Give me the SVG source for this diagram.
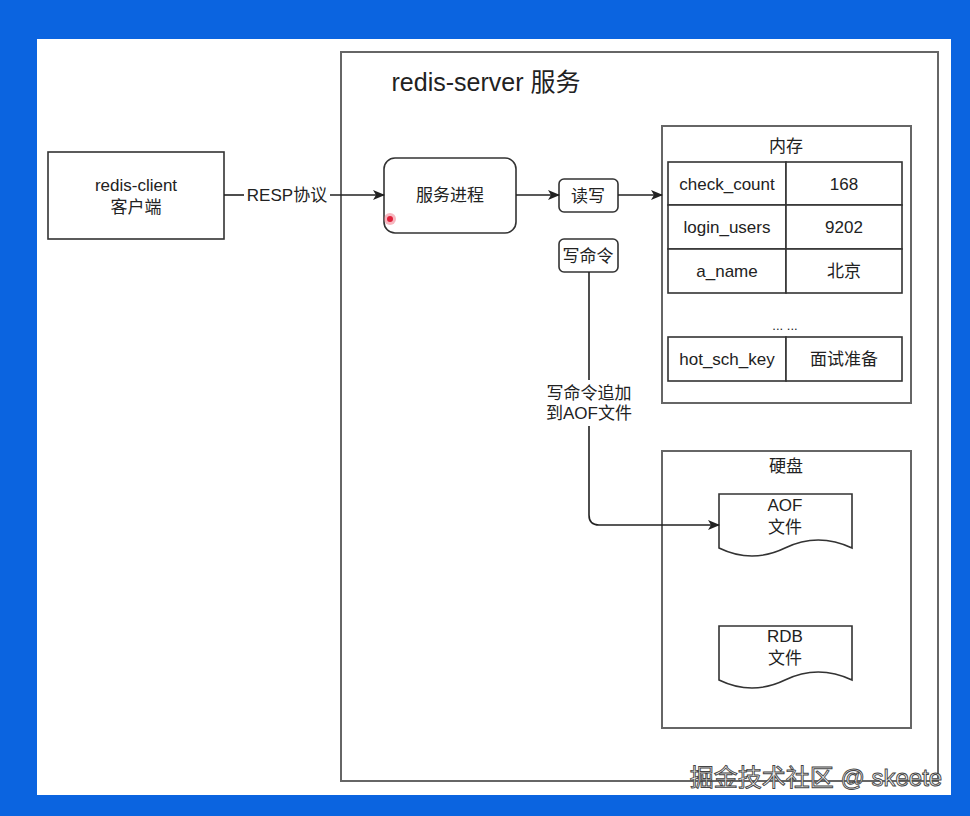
<svg xmlns="http://www.w3.org/2000/svg" width="970" height="816" viewBox="0 0 970 816">
<defs>
<style>
text{font-family:"Liberation Sans","Noto Sans CJK SC",Arial,sans-serif;fill:#222;text-anchor:middle;dominant-baseline:central}
.t{font-size:17px}
.box{fill:#fff;stroke:#333;stroke-width:1.6}
.frame{fill:none;stroke:#666;stroke-width:2}
.cell{fill:#fff;stroke:#333;stroke-width:1.6}
.ln{fill:none;stroke:#222;stroke-width:1.6}
</style>
<marker id="arr" viewBox="0 0 12 10" refX="11" refY="5" markerWidth="12" markerHeight="10" markerUnits="userSpaceOnUse" orient="auto">
<path d="M0,0 L12,5 L0,10 L3,5 Z" fill="#222"/>
</marker>
</defs>
<rect x="0" y="0" width="970" height="816" fill="#0b64e0"/>
<rect x="37" y="39" width="914" height="756" fill="#fff"/>

<g id="server">
<rect class="frame" x="341" y="52" width="597" height="729"/>
<text x="486" y="82" style="font-size:25px">redis-server 服务</text>
</g>

<g id="client">
<rect class="box" x="48" y="152" width="176" height="87"/>
<text class="t" x="136" y="185">redis-client</text>
<text class="t" x="136" y="207">客户端</text>
</g>

<g id="process">
<rect class="box" x="384" y="158" width="132" height="75" rx="11"/>
<text class="t" x="450" y="195">服务进程</text>
</g>

<g id="rw">
<rect class="box" x="559" y="179" width="59" height="33" rx="5"/>
<text class="t" x="588" y="196">读写</text>
</g>

<g id="writecmd">
<rect class="box" x="559" y="239" width="59" height="33" rx="5"/>
<text class="t" x="588" y="256">写命令</text>
</g>

<g id="memory">
<rect class="frame" x="662" y="126" width="249" height="277"/>
<text class="t" x="786" y="146">内存</text>
<rect class="cell" x="668" y="162" width="118" height="43"/>
<rect class="cell" x="786" y="162" width="116" height="43"/>
<rect class="cell" x="668" y="205" width="118" height="44"/>
<rect class="cell" x="786" y="205" width="116" height="44"/>
<rect class="cell" x="668" y="249" width="118" height="44"/>
<rect class="cell" x="786" y="249" width="116" height="44"/>
<rect class="cell" x="668" y="337" width="118" height="44"/>
<rect class="cell" x="786" y="337" width="116" height="44"/>
<text class="t" x="727" y="184">check_count</text>
<text class="t" x="844" y="184">168</text>
<text class="t" x="727" y="227">login_users</text>
<text class="t" x="844" y="227">9202</text>
<text class="t" x="727" y="271">a_name</text>
<text class="t" x="844" y="271">北京</text>
<text x="785" y="325" style="font-size:13px">... ...</text>
<text class="t" x="727" y="359">hot_sch_key</text>
<text class="t" x="844" y="359">面试准备</text>
</g>

<g id="disk">
<rect class="frame" x="662" y="451" width="249" height="277"/>
<text class="t" x="786" y="466">硬盘</text>
</g>

<g id="aof">
<path class="box" d="M719,494 H852 V548 Q818,532 785,548 Q752,564 719,548 Z"/>
<text class="t" x="785" y="505">AOF</text>
<text class="t" x="785" y="527">文件</text>
</g>

<g id="rdb">
<path class="box" d="M719,626 H852 V680 Q818,664 785,680 Q752,696 719,680 Z"/>
<text class="t" x="785" y="636">RDB</text>
<text class="t" x="785" y="658">文件</text>
</g>

<g id="connectors">
<path class="ln" d="M224,195 H244"/>
<path class="ln" d="M330,195 H384" marker-end="url(#arr)"/>
<text class="t" x="287" y="195">RESP协议</text>
<path class="ln" d="M516,195 H559" marker-end="url(#arr)"/>
<path class="ln" d="M618,195 H662" marker-end="url(#arr)"/>
<path class="ln" d="M589,272 V380"/>
<path class="ln" d="M589,426 V515 Q589,525 599,525 H719" marker-end="url(#arr)"/>
<text class="t" x="589" y="393">写命令追加</text>
<text class="t" x="589" y="413">到AOF文件</text>
</g>

<circle cx="390" cy="219" r="6" fill="#f07080" opacity="0.5"/>
<circle cx="390" cy="219" r="3" fill="#e0203a"/>

<text x="816" y="777" style="font-size:24px;fill:#f4f4f4;stroke:#444;stroke-width:0.9">掘金技术社区 @ skeete</text>
</svg>
